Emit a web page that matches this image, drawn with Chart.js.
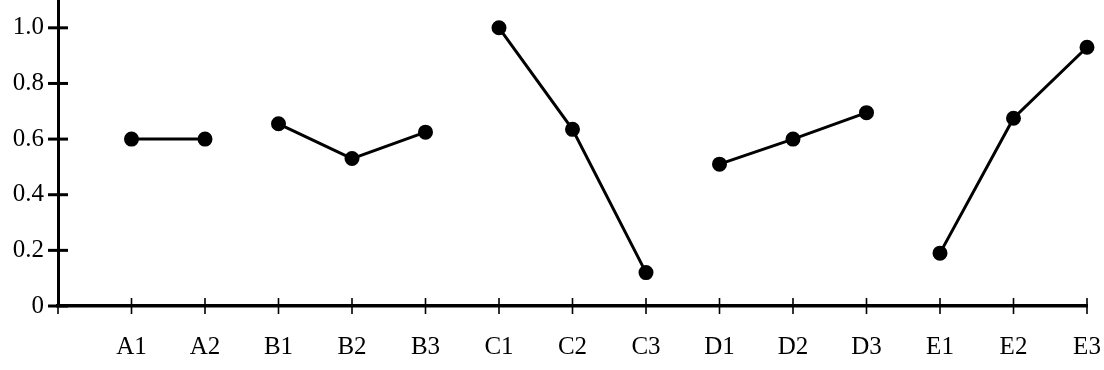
<!DOCTYPE html>
<html>
<head>
<meta charset="utf-8">
<script src="https://cdn.jsdelivr.net/npm/chart.js@4/dist/chart.umd.min.js"></script>
<style>
  html, body { margin: 0; padding: 0; background: #fff; }
  #wrap { width: 1104px; height: 370px; position: relative; }
</style>
</head>
<body>
<div id="wrap"><canvas id="chart"></canvas></div>
<script>
// x positions: an empty slot at the origin, then the 14 factor levels
const categories = ["", "A1", "A2", "B1", "B2", "B3", "C1", "C2", "C3", "D1", "D2", "D3", "E1", "E2", "E3"];
const groupA = { A1: 0.60, A2: 0.60 };
const groupB = { B1: 0.655, B2: 0.53, B3: 0.625 };
const groupC = { C1: 1.0, C2: 0.635, C3: 0.12 };
const groupD = { D1: 0.51, D2: 0.60, D3: 0.695 };
const groupE = { E1: 0.19, E2: 0.675, E3: 0.93 };
const groups = [groupA, groupB, groupC, groupD, groupE];
const yTicks = [0, 0.2, 0.4, 0.6, 0.8, 1.0];

const font = { family: "Liberation Serif, Times New Roman, serif", size: 25 };

// small crossing tick marks on both axes, placed by the scales
const crossTicks = {
    id: "crossTicks",
    afterDraw(chart) {
        const ctx = chart.ctx;
        const x = chart.scales.x, y = chart.scales.y;
        ctx.save();
        ctx.strokeStyle = "#000";
        ctx.lineWidth = 3;
        y.ticks.forEach((t, i) => {
            const py = y.getPixelForTick(i);
            ctx.beginPath();
            ctx.moveTo(x.left - 10, py);
            ctx.lineTo(x.left + 10, py);
            ctx.stroke();
        });
        ctx.lineWidth = 1.6;
        x.ticks.forEach((t, i) => {
            const px = x.getPixelForTick(i);
            ctx.beginPath();
            ctx.moveTo(px, y.bottom - 8);
            ctx.lineTo(px, y.bottom + 8);
            ctx.stroke();
        });
        ctx.restore();
    }
};

const datasets = groups.map(g => ({
    data: categories.map(c => (c in g ? g[c] : null)),
    borderColor: "#000",
    backgroundColor: "#000",
    borderWidth: 3,
    pointRadius: 6,
    pointHoverRadius: 6,
    spanGaps: false,
    tension: 0,
    clip: false,
}));

const noPad = s => { s.paddingTop = 0; s.paddingBottom = 0; s.paddingLeft = 0; s.paddingRight = 0; };

new Chart(document.getElementById("chart"), {
    type: "line",
    data: { labels: categories, datasets },
    options: {
        responsive: true,
        maintainAspectRatio: false,
        animation: false,
        layout: { autoPadding: false, padding: { top: 0, right: 17, left: 0, bottom: 0 } },
        plugins: { legend: { display: false }, tooltip: { enabled: false } },
        scales: {
            x: {
                offset: false,
                grid: { display: false, drawTicks: false },
                border: { display: true, color: "#000", width: 3.5 },
                ticks: { color: "#000", font, padding: 26, maxRotation: 0, autoSkip: false },
                afterFit: s => { s.height = 64; noPad(s); },
            },
            y: {
                min: 0,
                max: 1.1,
                grid: { display: false, drawTicks: false },
                border: { display: true, color: "#000", width: 3 },
                afterBuildTicks: s => { s.ticks = yTicks.map(v => ({ value: v })); },
                ticks: {
                    color: "#000",
                    font,
                    padding: 14,
                    callback: v => (v === 0 ? "0" : v.toFixed(1)),
                },
                afterFit: s => { s.width = 58; noPad(s); },
            },
        },
    },
    plugins: [crossTicks],
});
</script>
</body>
</html>
